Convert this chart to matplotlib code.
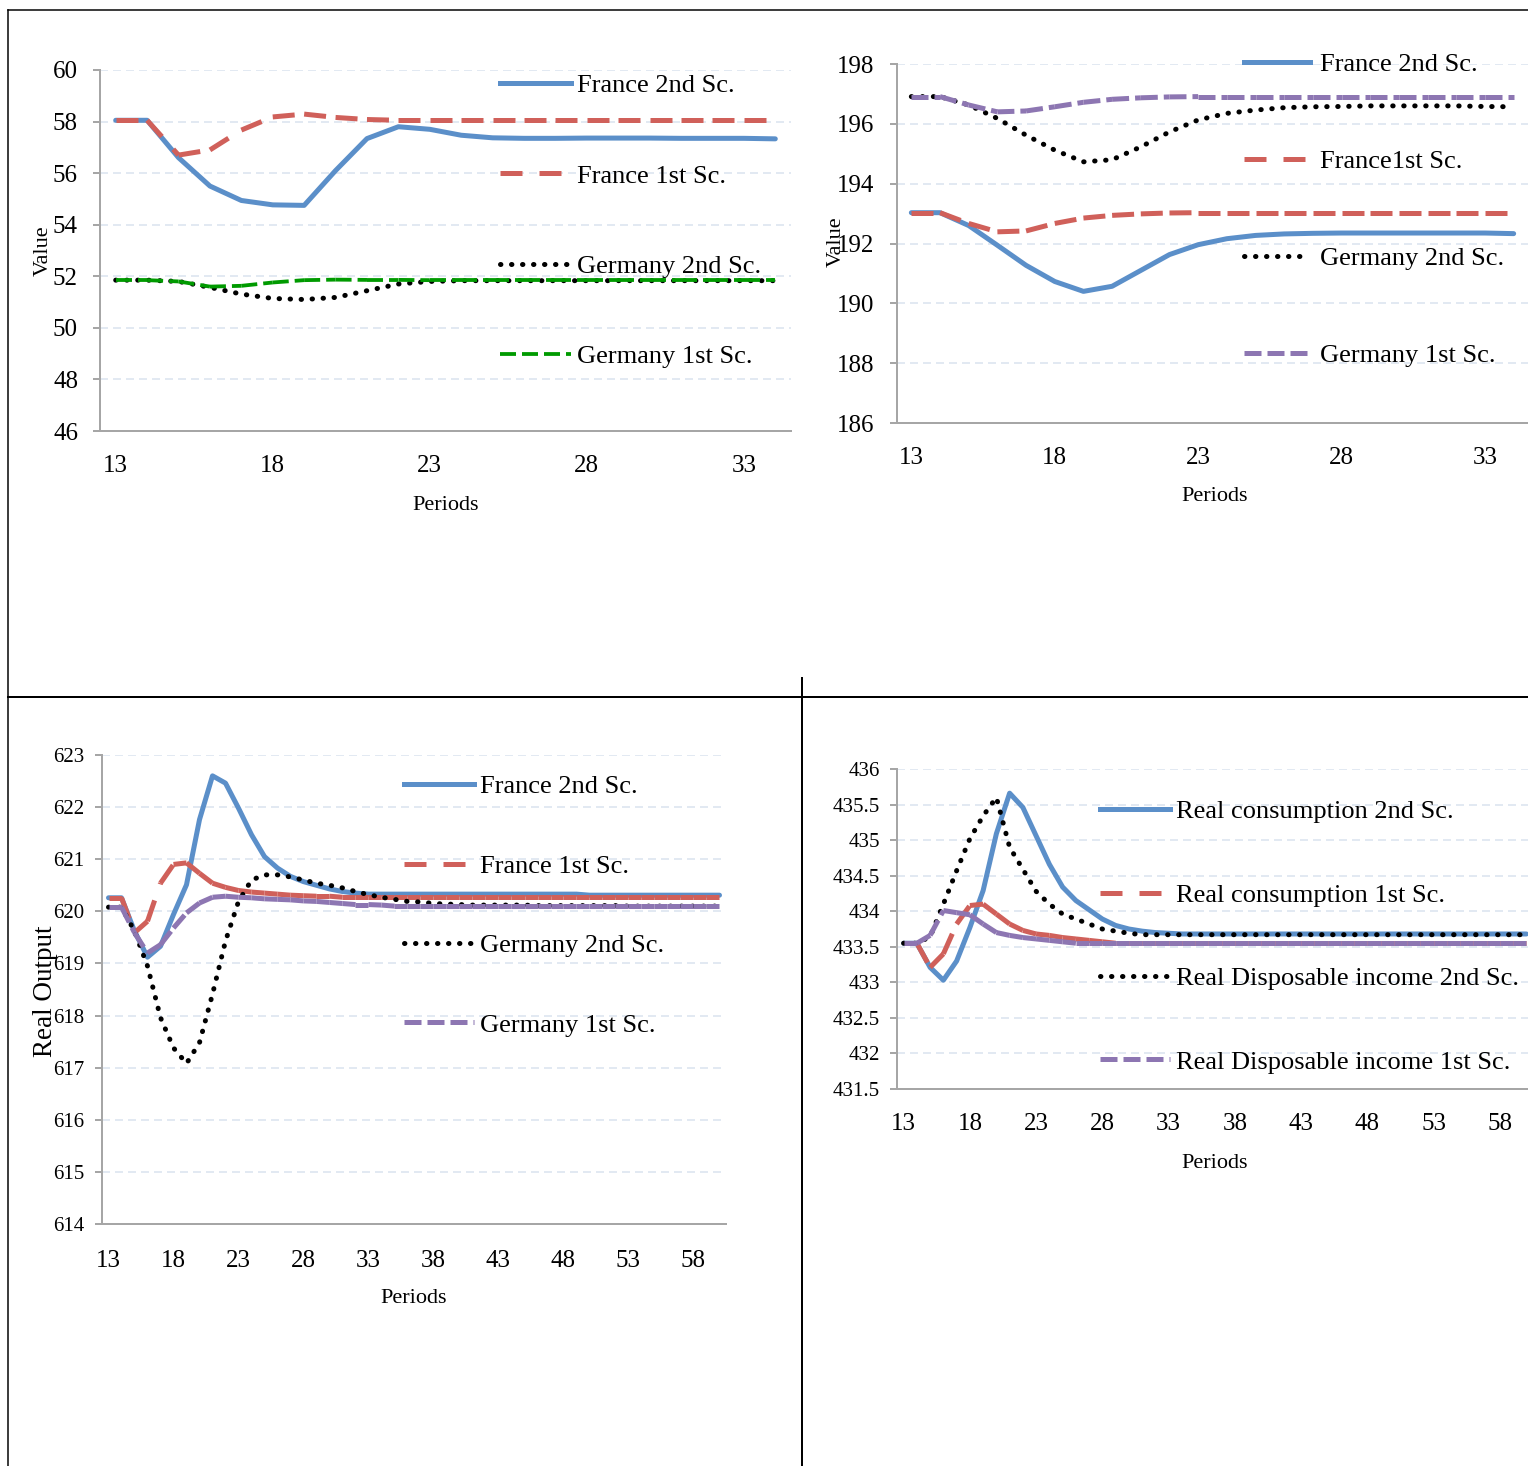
import matplotlib

matplotlib.use("Agg")
import matplotlib.pyplot as plt
from matplotlib.collections import LineCollection
from matplotlib.lines import Line2D
import numpy as np

W, H, DPI = 1528, 1466, 100
PX = 72 / DPI  # points per pixel

plt.rcParams["font.family"] = ["Liberation Serif", "DejaVu Serif"]
plt.rcParams["lines.scale_dashes"] = False

# ---------------- data ----------------
periods_short = list(range(13, 35))
periods_long = list(range(13, 61))

# top-left panel
fr2_a = [58.05, 58.05, 56.6, 55.5, 54.94, 54.77, 54.75, 56.1, 57.34, 57.8, 57.7,
         57.47, 57.37, 57.35, 57.35, 57.36, 57.36, 57.36, 57.35, 57.35, 57.35, 57.33]
fr1_a = [58.05, 58.05, 56.7, 56.9, 57.67, 58.18, 58.29, 58.16, 58.08, 58.05, 58.05,
         58.05, 58.05, 58.05, 58.05, 58.05, 58.05, 58.05, 58.05, 58.05, 58.05, 58.05]
de2_a = [51.85, 51.85, 51.8, 51.57, 51.31, 51.14, 51.1, 51.18, 51.44, 51.7, 51.8,
         51.83, 51.83, 51.83, 51.83, 51.83, 51.83, 51.83, 51.83, 51.83, 51.83, 51.83]
de1_a = [51.85, 51.85, 51.8, 51.6, 51.63, 51.76, 51.85, 51.87, 51.86, 51.86, 51.85,
         51.85, 51.85, 51.85, 51.85, 51.85, 51.85, 51.85, 51.85, 51.85, 51.85, 51.85]
labels_a = ["France 2nd Sc.", "France 1st Sc.", "Germany 2nd Sc.", "Germany 1st Sc."]

# top-right panel
fr2_b = [193.03, 193.03, 192.6, 191.94, 191.27, 190.73, 190.4, 190.57, 191.1, 191.63, 191.96,
         192.16, 192.27, 192.32, 192.34, 192.35, 192.35, 192.35, 192.35, 192.35, 192.35, 192.33]
fr1_b = [193.03, 193.03, 192.67, 192.39, 192.42, 192.67, 192.85, 192.94, 192.99, 193.02, 193.03,
         193.03, 193.03, 193.03, 193.03, 193.03, 193.03, 193.03, 193.03, 193.03, 193.03, 193.03]
de2_b = [196.91, 196.91, 196.63, 196.18, 195.62, 195.12, 194.73, 194.8, 195.23, 195.73, 196.13,
         196.35, 196.46, 196.54, 196.57, 196.58, 196.6, 196.6, 196.6, 196.6, 196.58, 196.57]
de1_b = [196.91, 196.91, 196.63, 196.4, 196.43, 196.57, 196.72, 196.82, 196.87, 196.9, 196.91,
         196.91, 196.91, 196.91, 196.91, 196.91, 196.91, 196.91, 196.91, 196.91, 196.91, 196.91]
labels_b = ["France 2nd Sc.", "France1st Sc.", "Germany 2nd Sc.", "Germany 1st Sc."]

# bottom-left panel (Real Output)
fr2_c = ([620.26, 620.26, 619.62, 619.12, 619.33, 619.94, 620.51, 621.76, 622.6, 622.46, 621.98,
          621.47, 621.05, 620.83, 620.67, 620.57, 620.5, 620.43, 620.38, 620.35, 620.33]
         + [620.33] * 16 + [620.31] * 11)
fr1_c = ([620.26, 620.26, 619.59, 619.81, 620.54, 620.9, 620.93, 620.73, 620.54, 620.46, 620.4,
          620.37, 620.35, 620.33, 620.31, 620.3, 620.29, 620.29]
         + [620.27] * 30)
de2_c = ([620.08, 620.08, 619.62, 618.95, 617.96, 617.38, 617.08, 617.48, 618.41, 619.43, 620.19,
          620.6, 620.7, 620.7, 620.66, 620.6, 620.54, 620.5, 620.45, 620.38, 620.32, 620.27,
          620.23, 620.19, 620.18, 620.15, 620.14, 620.13]
         + [620.12] * 5 + [620.11] * 7 + [620.1] * 8)
de1_c = ([620.08, 620.08, 619.59, 619.2, 619.36, 619.68, 619.97, 620.16, 620.27, 620.29, 620.27,
          620.26, 620.24, 620.23, 620.22, 620.2, 620.19, 620.17, 620.15, 620.13, 620.13, 620.12]
         + [620.1] * 26)
labels_c = ["France 2nd Sc.", "France 1st Sc.", "Germany 2nd Sc.", "Germany 1st Sc."]

# bottom-right panel (consumption / disposable income)
rc2_d = ([433.55, 433.55, 433.21, 433.03, 433.3, 433.77, 434.29, 435.09, 435.66, 435.46, 435.06,
          434.66, 434.34, 434.15, 434.02, 433.89, 433.8, 433.75, 433.72, 433.7, 433.69]
         + [433.68] * 27)
rc1_d = ([433.55, 433.55, 433.21, 433.4, 433.82, 434.08, 434.1, 433.96, 433.82, 433.73, 433.68,
          433.66, 433.63, 433.61, 433.59, 433.57]
         + [433.55] * 32)
rdi2_d = ([433.55, 433.55, 433.64, 434.1, 434.57, 435.02, 435.34, 435.6, 434.9, 434.59, 434.28,
           434.1, 433.96, 433.89, 433.82, 433.75, 433.72, 433.69]
          + [433.67] * 30)
rdi1_d = ([433.55, 433.55, 433.66, 434.01, 433.98, 433.95, 433.82, 433.7, 433.66, 433.63, 433.61,
           433.59, 433.57]
          + [433.55] * 35)
labels_d = ["Real consumption 2nd Sc.", "Real consumption 1st Sc.",
            "Real Disposable income 2nd Sc.", "Real Disposable income 1st Sc."]

# ---------------- styles ----------------
BLUE = "#5B8FC9"
RED = "#D0605A"
PURPLE = "#8D76B2"
GREEN = "#009A00"
GRID = "#D9E2EE"
SPINE = "#A6A6A6"

SOLID = dict(color=BLUE, lw=5 * PX, dashes=None, cap="round")
LONGDASH = dict(color=RED, lw=5 * PX, dashes=(22 * PX, 17 * PX), cap="butt")
DOTS = dict(color="black", lw=5 * PX, dashes=(0.3, 11 * PX - 0.3), cap="round")
GREENDASH = dict(color=GREEN, lw=3.8 * PX, dashes=(16 * PX, 6 * PX), cap="butt")
PURPLEDASH = dict(color=PURPLE, lw=5 * PX, dashes=(17 * PX, 6 * PX), cap="butt")


def draw_series(ax, x, y, style):
    x = np.asarray(x, dtype=float)
    y = np.asarray(y, dtype=float)
    if style["dashes"] is None:
        ax.plot(x, y, color=style["color"], lw=style["lw"],
                solid_capstyle="round", solid_joinstyle="round")
    elif style["cap"] == "round":
        ax.plot(x, y, color=style["color"], lw=style["lw"],
                linestyle=(0, style["dashes"]), dash_capstyle="round")
    else:
        # Excel restarts the dash pattern at every data point
        pts = np.column_stack([x, y])
        segs = np.stack([pts[:-1], pts[1:]], axis=1)
        lc = LineCollection(segs, colors=style["color"], linewidths=style["lw"],
                            linestyles=[(0, style["dashes"])])
        lc.set_capstyle("butt")
        ax.add_collection(lc)


def handle(style):
    if style["dashes"] is None:
        return Line2D([], [], color=style["color"], lw=style["lw"])
    return Line2D([], [], color=style["color"], lw=style["lw"],
                  linestyle=(0, style["dashes"]), dash_capstyle=style["cap"])


def make_axes(fig, left, right, top, bottom):
    return fig.add_axes([left / W, 1 - bottom / H, (right - left) / W, (bottom - top) / H])


def style_axes(ax, xlim, ylim, yticks, xticks, ytick_fs, ypad, xpad):
    ax.set_xlim(*xlim)
    ax.set_ylim(*ylim)
    ax.set_yticks(yticks)
    ax.set_yticklabels([f"{v:g}" for v in yticks])
    ax.set_xticks(xticks)
    ax.set_xticklabels([str(v) for v in xticks])
    for side in ("top", "right"):
        ax.spines[side].set_visible(False)
    for side in ("left", "bottom"):
        ax.spines[side].set_color(SPINE)
        ax.spines[side].set_linewidth(2 * PX)
    ax.tick_params(axis="y", length=7 * PX, width=2 * PX, color=SPINE,
                   labelsize=ytick_fs, pad=ypad)
    ax.tick_params(axis="x", length=0, labelsize=18, pad=xpad)
    ax.yaxis.grid(True, color=GRID, linestyle=(0, (8 * PX, 5 * PX)), linewidth=1.5 * PX)
    ax.set_axisbelow(True)


def add_legend(ax, fig, styles, labels, x_px, top_px, hlen, hpad, lspace):
    ax.legend([handle(s) for s in styles], labels, loc="upper left",
              bbox_to_anchor=(x_px / W, 1 - top_px / H), bbox_transform=fig.transFigure,
              frameon=False, borderpad=0, borderaxespad=0, fontsize=19,
              handlelength=hlen, handletextpad=hpad, labelspacing=lspace)


fig = plt.figure(figsize=(W / DPI, H / DPI), dpi=DPI)

# ---- top-left ----
ax1 = make_axes(fig, 100, 791, 70, 431)
for ys, st in zip([fr2_a, fr1_a, de2_a, de1_a], [SOLID, LONGDASH, DOTS, GREENDASH]):
    draw_series(ax1, periods_short, ys, st)
style_axes(ax1, (12.5, 34.5), (46, 60), list(range(46, 61, 2)), [13, 18, 23, 28, 33],
           18, 15 * PX, 24 * PX)
ax1.set_xlabel("Periods", fontsize=16, va="top")
ax1.xaxis.set_label_coords(0.5007, -0.18)
ax1.set_ylabel("Value", fontsize=16, va="center", ha="center")
ax1.yaxis.set_label_coords(-0.0815, 0.4986)
add_legend(ax1, fig, [SOLID, LONGDASH, DOTS, GREENDASH], labels_a, 500, 74, 2.69, 0.23, 2.53)

# ---- top-right ----
ax2 = make_axes(fig, 897, 1528, 64, 423)
for ys, st in zip([fr2_b, fr1_b, de2_b, de1_b], [SOLID, LONGDASH, DOTS, PURPLEDASH]):
    draw_series(ax2, periods_short, ys, st)
style_axes(ax2, (12.5, 34.5), (186, 198), list(range(186, 199, 2)), [13, 18, 23, 28, 33],
           18, 16 * PX, 24 * PX)
ax2.set_xlabel("Periods", fontsize=16, va="top")
ax2.xaxis.set_label_coords(0.503, -0.177)
ax2.set_ylabel("Value", fontsize=16, va="center", ha="center")
ax2.yaxis.set_label_coords(-0.097, 0.504)
add_legend(ax2, fig, [SOLID, LONGDASH, DOTS, PURPLEDASH], labels_b, 1244, 53, 2.5, 0.38, 2.78)

# ---- bottom-left ----
ax3 = make_axes(fig, 102, 726, 755, 1224)
for ys, st in zip([fr2_c, fr1_c, de2_c, de1_c], [SOLID, LONGDASH, DOTS, PURPLEDASH]):
    draw_series(ax3, periods_long, ys, st)
style_axes(ax3, (12.5, 60.5), (614, 623), list(range(614, 624)), list(range(13, 59, 5)),
           15, 11 * PX, 26 * PX)
ax3.set_xlabel("Periods", fontsize=16, va="top")
ax3.xaxis.set_label_coords(0.5, -0.138)
ax3.set_ylabel("Real Output", fontsize=19.5, va="center", ha="center")
ax3.yaxis.set_label_coords(-0.091, 0.497)
add_legend(ax3, fig, [SOLID, LONGDASH, DOTS, PURPLEDASH], labels_c, 404, 775, 2.65, 0.23, 2.12)

# ---- bottom-right ----
ax4 = make_axes(fig, 897, 1533, 769, 1089)
for ys, st in zip([rc2_d, rc1_d, rdi2_d, rdi1_d], [SOLID, LONGDASH, DOTS, PURPLEDASH]):
    draw_series(ax4, periods_long, ys, st)
style_axes(ax4, (12.5, 60.5), (431.5, 436), list(np.arange(431.5, 436.01, 0.5)),
           list(range(13, 59, 5)), 15, 10 * PX, 24 * PX)
ax4.set_xlabel("Periods", fontsize=16, va="top")
ax4.xaxis.set_label_coords(0.5, -0.203)
add_legend(ax4, fig, [SOLID, LONGDASH, DOTS, PURPLEDASH], labels_d, 1100, 800, 2.65, 0.23, 2.27)

# ---- table borders ----
for (x0, y0, x1, y1, lw) in [(8, 10, 1528, 10, 1.5), (8, 10, 8, 1466, 1.5),
                             (8, 697, 1528, 697, 2), (802, 678, 802, 1466, 2)]:
    fig.add_artist(Line2D([x0 / W, x1 / W], [1 - y0 / H, 1 - y1 / H],
                          transform=fig.transFigure, color="black", lw=lw * PX))

fig.savefig("out.png", dpi=DPI)
